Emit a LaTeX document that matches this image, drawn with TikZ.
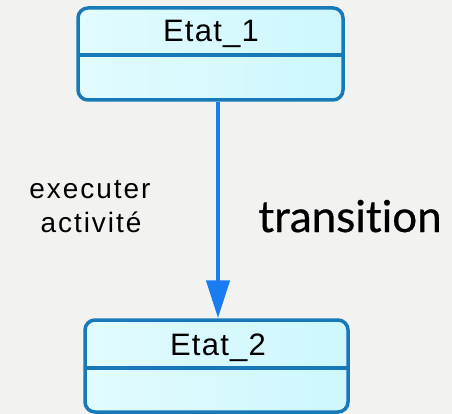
\documentclass[tikz,border=0pt]{standalone}
\usepackage{fontspec}
\setmainfont{Liberation Sans}
\newfontfamily\humanist[Ligatures=NoCommon,FakeBold=0.6]{Lato}
\newfontfamily\spaced[LetterSpace=7]{Liberation Sans}
\newfontfamily\namefont[LetterSpace=4]{Liberation Sans}
\usetikzlibrary{arrows.meta,calc}
\definecolor{bgcol}{HTML}{F2F2F0}
\definecolor{edgecol}{HTML}{1779B8}
\definecolor{fillA}{HTML}{E2FBFF}
\definecolor{fillB}{HTML}{CDF7FC}
\definecolor{arrowcol}{HTML}{1A7CF0}
\tikzset{
  statebox/.style={draw=edgecol, line width=3.5pt, rounded corners=10pt,
    left color=fillA, right color=fillB, shading angle=90,
    minimum height=92pt, inner sep=0pt},
  divider/.style={draw=edgecol, line width=3.2pt},
  statename/.style={font=\namefont\fontsize{31}{36}\selectfont, anchor=base, inner sep=0pt},
  flow/.style={draw=arrowcol, line width=4.5pt, -{Triangle[length=38pt,width=23pt]}},
}
\begin{document}
\begin{tikzpicture}[x=1pt,y=-1pt]
  \fill[bgcol] (0,0) rectangle (452,414);
  \useasboundingbox (0,0) rectangle (452,414);

  % first state
  \node[statebox, minimum width=265pt] (s1) at (210.5,54) {};
  \draw[divider] (78,55) -- (343,55);
  \node[statename] (n1) at (211,42) {Etat\_1};

  % second state
  \node[statebox, minimum width=263pt] (s2) at (216.5,366) {};
  \draw[divider] (85,368) -- (348,368);
  \node[statename] (n2) at (218,355) {Etat\_2};

  % transition
  \draw[flow] (s1.south -| 218,0) -- (s2.north -| 218,0);

  % labels
  \node[anchor=base, inner sep=0pt, font=\spaced\fontsize{28}{32}\selectfont] (l1) at (90,198) {executer};
  \node[anchor=base, inner sep=0pt, font=\spaced\fontsize{28}{32}\selectfont] (l2) at (91,232) {activité};
  \node[anchor=base, inner sep=0pt, font=\humanist\fontsize{44}{50}\selectfont] (l3) at (350,232) {transition};
\end{tikzpicture}
\end{document}
